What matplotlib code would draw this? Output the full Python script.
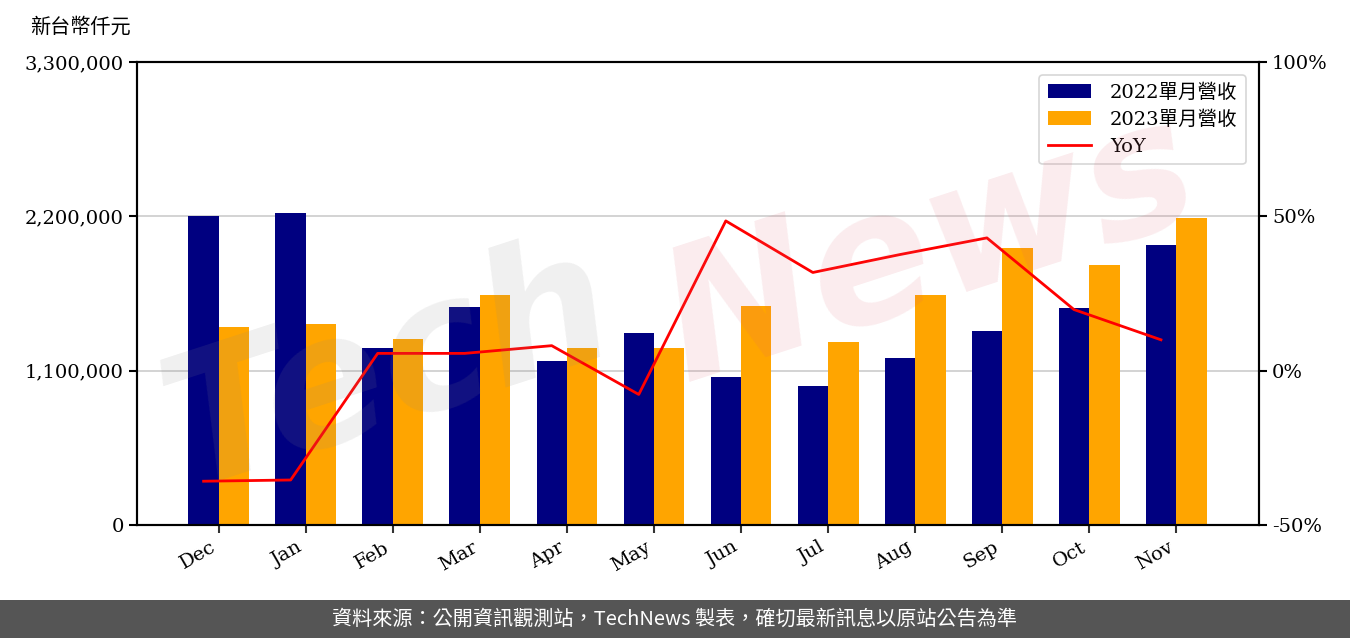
import matplotlib
matplotlib.use("Agg")
import matplotlib.pyplot as plt
import numpy as np
from matplotlib.ticker import FixedLocator, FuncFormatter

months = ["Dec", "Jan", "Feb", "Mar", "Apr", "May", "Jun", "Jul", "Aug", "Sep", "Oct", "Nov"]
rev_2022 = [2202000, 2224000, 1262000, 1554000, 1169000, 1368000, 1055000, 991000, 1190000, 1383000, 1547000, 1996000]
rev_2023 = [1411000, 1433000, 1326000, 1639000, 1262000, 1262000, 1561000, 1304000, 1639000, 1974000, 1853000, 2188000]
yoy = [-35.8, -35.4, 5.6, 5.6, 8.1, -7.7, 48.5, 31.8, 37.6, 43.0, 19.8, 10.0]
left_ticks = [0, 1100000, 2200000, 3300000]
right_ticks = [-50, 0, 50, 100]

serif = ["DejaVu Serif", "Noto Sans CJK TC"]
plt.rcParams["font.family"] = serif

fig = plt.figure(figsize=(13.5, 6.38), dpi=100)
ax = fig.add_axes([0.1015, 0.177, 0.831, 0.726])
x = np.arange(len(months))
w = 0.35
b1 = ax.bar(x - w / 2, rev_2022, w, color="#000080", label="2022單月營收", zorder=2)
b2 = ax.bar(x + w / 2, rev_2023, w, color="#FFA500", label="2023單月營收", zorder=2)
ax.set_ylim(0, 3300000)
ax.set_xlim(-0.94, 11.95)
ax.yaxis.set_major_locator(FixedLocator(left_ticks))
ax.yaxis.set_major_formatter(FuncFormatter(lambda v, p: f"{int(v):,}"))
ax.grid(axis="y", color="#cccccc", linewidth=1.2, zorder=0)
ax.set_axisbelow(True)
ax.set_xticks(x)
ax.set_xticklabels(months, rotation=30, ha="right", fontsize=14)
ax.tick_params(axis="y", labelsize=14, length=6, width=1.5)
ax.tick_params(axis="x", length=6, width=1.5, color="#333333")
for s in ax.spines.values():
    s.set_linewidth(1.5)

ax2 = ax.twinx()
ln, = ax2.plot(x - w / 2, yoy, color="red", linewidth=2, label="YoY", zorder=3)
ax2.set_ylim(-50, 100)
ax2.yaxis.set_major_locator(FixedLocator(right_ticks))
ax2.yaxis.set_major_formatter(FuncFormatter(lambda v, p: f"{int(v)}%"))
ax2.tick_params(axis="y", labelsize=14, length=6, width=1.5)
for s in ax2.spines.values():
    s.set_linewidth(1.5)

leg = ax2.legend([b1, b2, ln], ["2022單月營收", "2023單月營收", "YoY"], loc="upper right",
                 fontsize=14, frameon=True, fancybox=True, borderpad=0.45,
                 handlelength=2.2, handletextpad=1.0, labelspacing=0.45,
                 bbox_to_anchor=(0.9975, 0.9935))
leg.get_frame().set_edgecolor("#cccccc")
leg.get_frame().set_linewidth(1.2)

fig.text(30 / 1350, 1 - 27 / 638, "新台幣仟元", fontsize=14.5, va="center", ha="left",
         family=serif)

# watermark
fig.text(390 / 1350, 1 - 370 / 638, "Tech", fontsize=130, rotation=18, color="#888888",
         alpha=0.13, ha="center", va="center", fontstyle="italic", family=["DejaVu Sans"],
         fontweight="bold")
fig.text(930 / 1350, 1 - 250 / 638, "News", fontsize=130, rotation=18, color="#e06070",
         alpha=0.12, ha="center", va="center", fontstyle="italic", family=["DejaVu Sans"],
         fontweight="bold")

# bottom banner
fig.patches.append(plt.Rectangle((0, 0), 1, 38 / 638, transform=fig.transFigure,
                                 facecolor="#555555", edgecolor="none", zorder=0))
fig.text(0.5, 19 / 638, "資料來源：公開資訊觀測站，TechNews 製表，確切最新訊息以原站公告為準",
         color="white", fontsize=14.5, ha="center", va="center",
         family=["Noto Sans CJK TC", "DejaVu Sans"])

fig.savefig("out.png", dpi=100)
